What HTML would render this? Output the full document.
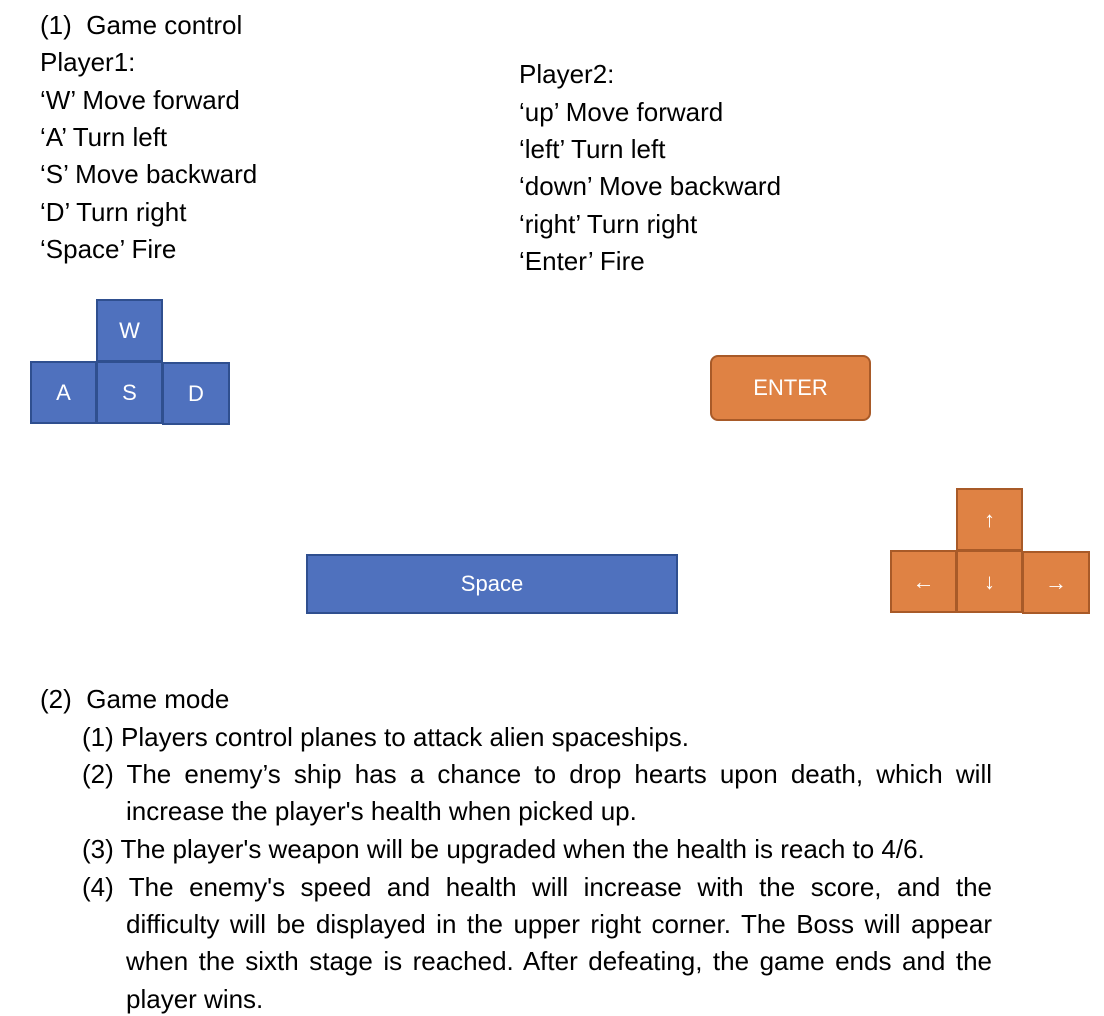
<!DOCTYPE html>
<html><head><meta charset="utf-8"><style>
html,body{margin:0;padding:0;background:#fff;width:1104px;height:1016px;overflow:hidden;position:relative;font-family:"Liberation Sans","Noto Sans CJK SC",sans-serif;color:#000}
.t{position:absolute;font-size:26px;line-height:30px;white-space:nowrap}
.j{white-space:normal;text-align:justify;text-align-last:justify;height:30px;overflow:hidden}
.k{position:absolute;box-sizing:border-box;color:#fff;display:flex;align-items:center;justify-content:center;font-size:22px}
.b{background:#4f71be;border:2px solid #2f4f8f}
.o{background:#df8244;border:2px solid #a85a28}
</style></head><body>
<div class="t" style="left:40px;top:10px">(1)&nbsp; Game control</div>
<div class="t" style="left:40px;top:47px">Player1:</div>
<div class="t" style="left:40px;top:85px">‘W’ Move forward</div>
<div class="t" style="left:40px;top:122px">‘A’ Turn left</div>
<div class="t" style="left:40px;top:159px">‘S’ Move backward</div>
<div class="t" style="left:40px;top:197px">‘D’ Turn right</div>
<div class="t" style="left:40px;top:234px">‘Space’ Fire</div>

<div class="t" style="left:519px;top:59px">Player2:</div>
<div class="t" style="left:519px;top:97px">‘up’ Move forward</div>
<div class="t" style="left:519px;top:134px">‘left’ Turn left</div>
<div class="t" style="left:519px;top:171px">‘down’ Move backward</div>
<div class="t" style="left:519px;top:209px">‘right’ Turn right</div>
<div class="t" style="left:519px;top:246px">‘Enter’ Fire</div>

<div class="k b" style="left:96px;top:299px;width:67px;height:63px">W</div>
<div class="k b" style="left:30px;top:361px;width:67px;height:63px">A</div>
<div class="k b" style="left:96px;top:361px;width:67px;height:63px">S</div>
<div class="k b" style="left:162px;top:362px;width:68px;height:63px">D</div>

<div class="k o" style="left:710px;top:355px;width:161px;height:66px;border-radius:8px">ENTER</div>
<div class="k b" style="left:306px;top:554px;width:372px;height:60px">Space</div>

<div class="k o" style="left:956px;top:488px;width:67px;height:63px">↑</div>
<div class="k o" style="left:890px;top:550px;width:67px;height:63px">←</div>
<div class="k o" style="left:956px;top:550px;width:67px;height:63px">↓</div>
<div class="k o" style="left:1022px;top:551px;width:68px;height:63px">→</div>

<div class="t" style="left:40px;top:684px">(2)&nbsp; Game mode</div>
<div class="t" style="left:82px;top:722px">(1) Players control planes to attack alien spaceships.</div>
<div class="t j" style="left:82px;top:759px;width:910px">(2) The enemy’s ship has a chance to drop hearts upon death, which will</div>
<div class="t" style="left:126px;top:796px">increase the player's health when picked up.</div>
<div class="t" style="left:82px;top:834px">(3) The player's weapon will be upgraded when the health is reach to 4/6.</div>
<div class="t j" style="left:82px;top:872px;width:910px">(4) The enemy's speed and health will increase with the score, and the</div>
<div class="t j" style="left:126px;top:909px;width:866px">difficulty will be displayed in the upper right corner. The Boss will appear</div>
<div class="t j" style="left:126px;top:946px;width:866px">when the sixth stage is reached. After defeating, the game ends and the</div>
<div class="t" style="left:126px;top:984px">player wins.</div>
</body></html>
